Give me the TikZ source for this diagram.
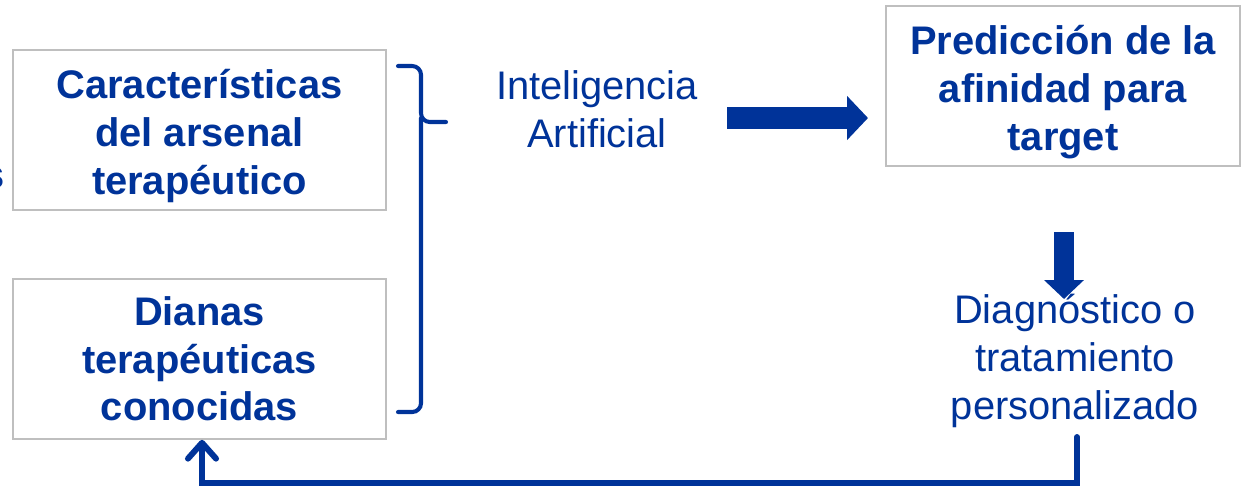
\documentclass[tikz,border=0pt]{standalone}
\usepackage{fontspec}
\setmainfont{Liberation Sans}
\usetikzlibrary{arrows.meta, positioning}
\definecolor{azul}{RGB}{0,51,153}
\definecolor{borde}{RGB}{191,191,191}

\begin{document}
\begin{tikzpicture}[x=0.02cm, y=-0.02cm,
  caja/.style={draw=borde, line width=1.1pt, minimum width=7.46cm, minimum height=3.2cm, align=center, text=azul, font=\fontsize{22.7}{27.2}\bfseries},
  texto/.style={align=center, text=azul, font=\fontsize{22.7}{27.2}\selectfont},
  gruesa/.style={azul, line width=12.5pt, -{Triangle[length=11.9pt, width=24.4pt]}},
  llave/.style={azul, line width=2.3pt, line cap=round, rounded corners=5pt},
  retro/.style={azul, line width=3.4pt, line cap=round, line join=miter, -{Straight Barb[round, length=9pt, width=16pt]}}]
\useasboundingbox (0,0) rectangle (1243,488);

\node[caja] (carac) at (199.5,130) {\rule{0pt}{23.4pt}Características\\del arsenal\\terapéutico};
\node[caja, below=1.34cm of carac] (dianas) {Dianas\\terapéuticas\\conocidas};
\node[caja, minimum width=7.08cm] (pred) at (1063,86) {\rule{0pt}{23.4pt}Predicción de la\\afinidad para\\target};
\node[texto] (ia) at (597,109) {Inteligencia\\Artificial};
\node[texto] (diag) at (1075,358) {\rule{0pt}{20pt}Diagnóstico o\\tratamiento\\personalizado};
\node[anchor=base east, inner sep=0pt, text=azul, font=\fontsize{22.7}{27.2}\bfseries] (resto) at (5,188) {s};

% llave
\draw[llave] (398,66) -- (421,66) -- (421,122) -- (446,122);
\draw[llave] (421,118) -- (421,412) -- (398,412);

% flechas
\coordinate (a0) at (727,118);
\coordinate (a1) at (868,118);
\draw[gruesa] (a0) -- (a1);
\coordinate (b0) at (1064,232);
\coordinate (b1) at (1064,299);
\draw[azul, line width=11.3pt, -{Triangle[length=10.8pt, width=22.1pt]}] (b0) -- (b1);

\coordinate (fb) at (1077,437);
\coordinate (fbx) at (202,483);
\draw[retro] (fb) |- (fbx) -- (dianas.south -| fbx);

\end{tikzpicture}
\end{document}
